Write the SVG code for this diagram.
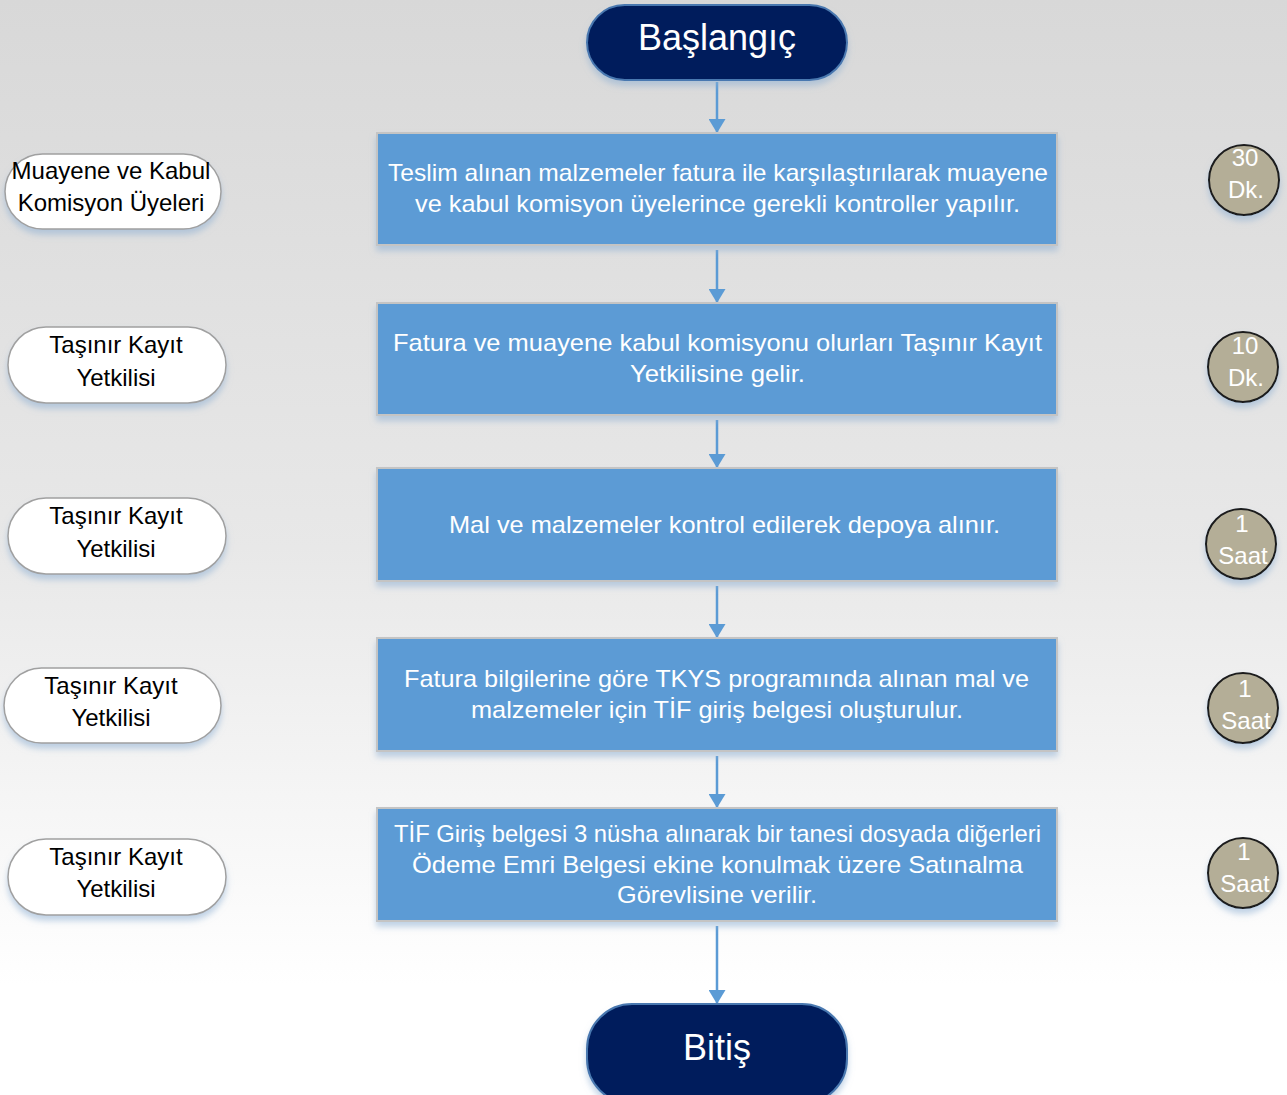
<svg xmlns="http://www.w3.org/2000/svg" width="1287" height="1095" viewBox="0 0 1287 1095">
<defs>
<linearGradient id="bg" x1="0" y1="0" x2="0" y2="1">
<stop offset="0" stop-color="#d8d8d8"/>
<stop offset="0.5" stop-color="#e8e8e8"/>
<stop offset="0.9" stop-color="#ffffff"/>
<stop offset="1" stop-color="#ffffff"/>
</linearGradient>
<filter id="sh" x="-10%" y="-20%" width="120%" height="150%">
<feGaussianBlur in="SourceAlpha" stdDeviation="3"/>
<feOffset dx="0" dy="5" result="b"/>
<feFlood flood-color="#8fb0d3" flood-opacity="0.55"/>
<feComposite in2="b" operator="in"/>
<feMerge><feMergeNode/><feMergeNode in="SourceGraphic"/></feMerge>
</filter>
<marker id="ah" markerWidth="14" markerHeight="17" refX="14" refY="8.5" orient="auto" markerUnits="userSpaceOnUse" viewBox="0 0 14 17">
<path d="M0,0 L14,8.5 L0,17 Z" fill="#5b9bd5"/>
</marker>
</defs>
<style>
.term{fill:#001f5c;stroke:#4a78b0;stroke-width:2}
.termt{font-family:"Liberation Sans",Arial,sans-serif;font-size:36px;fill:#ffffff;text-anchor:middle}
.box{fill:#5b9bd5;stroke:#c4c4c4;stroke-width:2}
.boxt{font-family:"Liberation Sans",Arial,sans-serif;font-size:24px;fill:#ffffff;text-anchor:middle}
.role{fill:#ffffff;stroke:#a0a0a0;stroke-width:1.5}
.rolet{font-family:"Liberation Sans",Arial,sans-serif;font-size:24px;fill:#000000;text-anchor:middle}
.time{fill:#b4ae97;stroke:#1a1a1a;stroke-width:2}
.timet{font-family:"Liberation Sans",Arial,sans-serif;font-size:24px;fill:#ffffff;text-anchor:middle}
.conn{stroke:#5b9bd5;stroke-width:2.5;fill:none}
</style>
<rect x="0" y="0" width="1287" height="1095" fill="url(#bg)"/>

<g id="connectors">
<line class="conn" x1="717" y1="82" x2="717" y2="133" marker-end="url(#ah)"/>
<line class="conn" x1="717" y1="250" x2="717" y2="303" marker-end="url(#ah)"/>
<line class="conn" x1="717" y1="420" x2="717" y2="468" marker-end="url(#ah)"/>
<line class="conn" x1="717" y1="586" x2="717" y2="638" marker-end="url(#ah)"/>
<line class="conn" x1="717" y1="756" x2="717" y2="808" marker-end="url(#ah)"/>
<line class="conn" x1="717" y1="926" x2="717" y2="1004" marker-end="url(#ah)"/>
</g>

<g id="start">
<rect class="term" x="587" y="5" width="260" height="75" rx="37.5" filter="url(#sh)"/>
<text class="termt" x="717" y="50">Başlangıç</text>
</g>

<g id="step1">
<rect class="box" x="377" y="133" width="680" height="112" filter="url(#sh)"/>
<text class="boxt" x="718" y="181" textLength="660" lengthAdjust="spacingAndGlyphs">Teslim alınan malzemeler fatura ile karşılaştırılarak muayene</text>
<text class="boxt" x="717.5" y="212" textLength="605" lengthAdjust="spacingAndGlyphs">ve kabul komisyon üyelerince gerekli kontroller yapılır.</text>
</g>

<g id="step2">
<rect class="box" x="377" y="303" width="680" height="112" filter="url(#sh)"/>
<text class="boxt" x="717.5" y="351" textLength="649" lengthAdjust="spacingAndGlyphs">Fatura ve muayene kabul komisyonu olurları Taşınır Kayıt</text>
<text class="boxt" x="717.5" y="382" textLength="175" lengthAdjust="spacingAndGlyphs">Yetkilisine gelir.</text>
</g>

<g id="step3">
<rect class="box" x="377" y="468" width="680" height="113" filter="url(#sh)"/>
<text class="boxt" x="724.5" y="533" textLength="551" lengthAdjust="spacingAndGlyphs">Mal ve malzemeler kontrol edilerek depoya alınır.</text>
</g>

<g id="step4">
<rect class="box" x="377" y="638" width="680" height="113" filter="url(#sh)"/>
<text class="boxt" x="716.5" y="687" textLength="625" lengthAdjust="spacingAndGlyphs">Fatura bilgilerine göre TKYS programında alınan mal ve</text>
<text class="boxt" x="717" y="718" textLength="492" lengthAdjust="spacingAndGlyphs">malzemeler için TİF giriş belgesi oluşturulur.</text>
</g>

<g id="step5">
<rect class="box" x="377" y="808" width="680" height="113" filter="url(#sh)"/>
<text class="boxt" x="717.5" y="842" textLength="647" lengthAdjust="spacingAndGlyphs">TİF Giriş belgesi 3 nüsha alınarak bir tanesi dosyada diğerleri</text>
<text class="boxt" x="717.5" y="873" textLength="611" lengthAdjust="spacingAndGlyphs">Ödeme Emri Belgesi ekine konulmak üzere Satınalma</text>
<text class="boxt" x="717" y="903" textLength="200" lengthAdjust="spacingAndGlyphs">Görevlisine verilir.</text>
</g>

<g id="end">
<rect class="term" x="587" y="1004" width="260" height="100" rx="45" filter="url(#sh)"/>
<text class="termt" x="717" y="1060">Bitiş</text>
</g>

<g id="role1">
<rect class="role" x="5" y="154" width="216" height="75" rx="37.5" filter="url(#sh)"/>
<text class="rolet" x="111" y="179">Muayene ve Kabul</text>
<text class="rolet" x="111" y="211">Komisyon Üyeleri</text>
</g>
<g id="role2">
<rect class="role" x="8" y="327" width="218" height="76" rx="38" filter="url(#sh)"/>
<text class="rolet" x="116" y="353">Taşınır Kayıt</text>
<text class="rolet" x="116" y="386">Yetkilisi</text>
</g>
<g id="role3">
<rect class="role" x="8" y="498" width="218" height="76" rx="38" filter="url(#sh)"/>
<text class="rolet" x="116" y="524">Taşınır Kayıt</text>
<text class="rolet" x="116" y="557">Yetkilisi</text>
</g>
<g id="role4">
<rect class="role" x="4" y="668" width="217" height="75" rx="37.5" filter="url(#sh)"/>
<text class="rolet" x="111" y="694">Taşınır Kayıt</text>
<text class="rolet" x="111" y="726">Yetkilisi</text>
</g>
<g id="role5">
<rect class="role" x="8" y="839" width="218" height="76" rx="38" filter="url(#sh)"/>
<text class="rolet" x="116" y="865">Taşınır Kayıt</text>
<text class="rolet" x="116" y="897">Yetkilisi</text>
</g>

<g id="time1">
<circle class="time" cx="1244" cy="180" r="35" filter="url(#sh)"/>
<text class="timet" x="1245" y="166">30</text>
<text class="timet" x="1246" y="198">Dk.</text>
</g>
<g id="time2">
<circle class="time" cx="1243" cy="367" r="35" filter="url(#sh)"/>
<text class="timet" x="1245" y="354">10</text>
<text class="timet" x="1246" y="386">Dk.</text>
</g>
<g id="time3">
<circle class="time" cx="1241" cy="544" r="35" filter="url(#sh)"/>
<text class="timet" x="1242" y="532">1</text>
<text class="timet" x="1243" y="564">Saat</text>
</g>
<g id="time4">
<circle class="time" cx="1243" cy="708" r="35" filter="url(#sh)"/>
<text class="timet" x="1245" y="697">1</text>
<text class="timet" x="1246" y="729">Saat</text>
</g>
<g id="time5">
<circle class="time" cx="1243" cy="873" r="35" filter="url(#sh)"/>
<text class="timet" x="1244" y="860">1</text>
<text class="timet" x="1245" y="892">Saat</text>
</g>
</svg>
